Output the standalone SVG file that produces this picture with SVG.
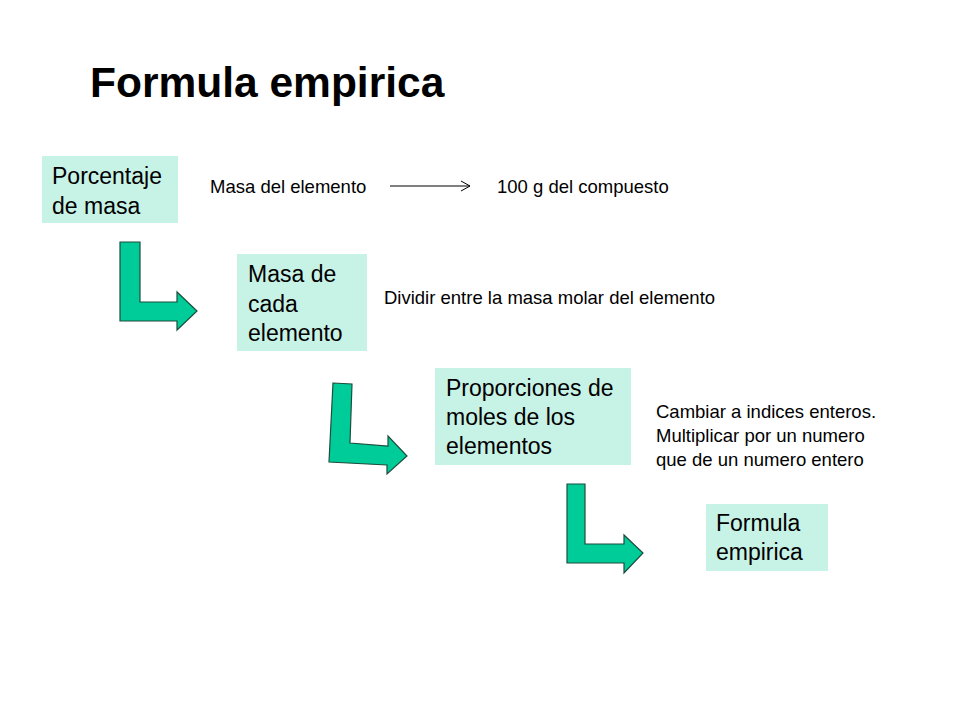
<svg xmlns="http://www.w3.org/2000/svg" width="960" height="720" viewBox="0 0 960 720">
<style>
.box{fill:#c7f2e6;stroke:none}
.bt{font-family:"Liberation Sans",Arial,sans-serif;font-size:23px;fill:#000}
.st{font-family:"Liberation Sans",Arial,sans-serif;font-size:18.5px;fill:#000}
.title{font-family:"Liberation Sans",Arial,sans-serif;font-size:42.5px;font-weight:bold;fill:#000}
.bend{fill:#00cc99;stroke:#1d4d3d;stroke-width:1.2;stroke-linejoin:miter}
</style>
<defs>
<marker id="open" markerWidth="12" markerHeight="12" refX="10" refY="6" orient="auto" markerUnits="userSpaceOnUse">
<path d="M1,1 L10,6 L1,11" fill="none" stroke="#000" stroke-width="1"/>
</marker>
</defs>
<rect width="960" height="720" fill="#fff"/>
<text class="title" x="90" y="97">Formula empirica</text>
<g id="porcentaje">
<rect class="box" x="42" y="156" width="136" height="67"/>
<text class="bt" x="52" y="184">Porcentaje</text>
<text class="bt" x="52" y="214">de masa</text>
</g>
<g id="masa-cada">
<rect class="box" x="237" y="254" width="130" height="97"/>
<text class="bt" x="248" y="282">Masa de</text>
<text class="bt" x="248" y="312">cada</text>
<text class="bt" x="248" y="341">elemento</text>
</g>
<g id="proporciones">
<rect class="box" x="435" y="368" width="196" height="97"/>
<text class="bt" x="446" y="396">Proporciones de</text>
<text class="bt" x="446" y="425">moles de los</text>
<text class="bt" x="446" y="454">elementos</text>
</g>
<g id="formula">
<rect class="box" x="706" y="504" width="122" height="67"/>
<text class="bt" x="716" y="531">Formula</text>
<text class="bt" x="716" y="560">empirica</text>
</g>
<g id="labels">
<text class="st" x="210" y="193">Masa del elemento</text>
<text class="st" x="497" y="193">100 g del compuesto</text>
<text class="st" x="384" y="304">Dividir entre la masa molar del elemento</text>
<text class="st" x="656" y="418">Cambiar a indices enteros.</text>
<text class="st" x="656" y="442">Multiplicar por un numero</text>
<text class="st" x="656" y="466">que de un numero entero</text>
</g>
<g id="connectors">
<line x1="390" y1="186" x2="470" y2="186" stroke="#000" stroke-width="1" marker-end="url(#open)"/>
<polygon class="bend" points="120,242 140,242 140,302 177,302 177,292 197,311 177,330 177,321 120,321"/>
<polygon class="bend" points="333,383 352,384 350,443 388,446 388,436 407,456 387,474 387,465 329,462"/>
<polygon class="bend" points="567,484 585,484 585,544 624,544 624,535 643,553 624,573 624,563 567,563"/>
</g>
</svg>
